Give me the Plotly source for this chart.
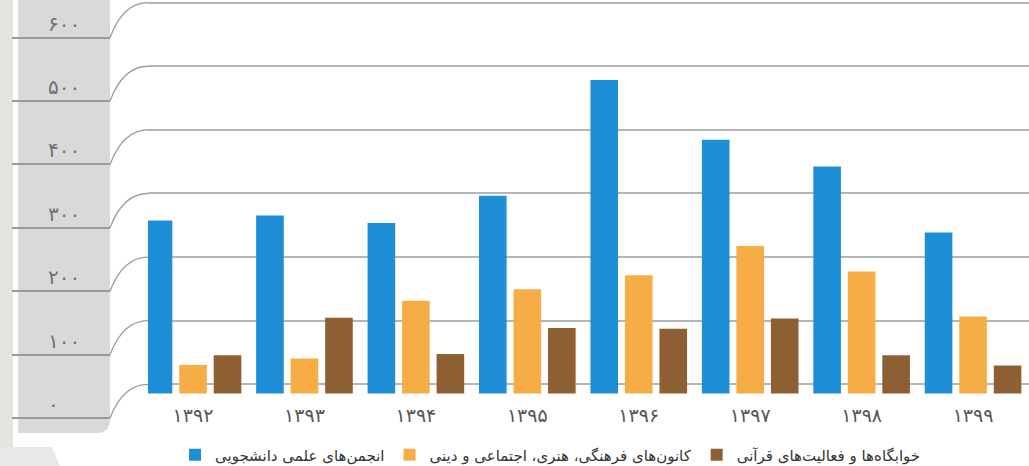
import plotly.graph_objects as go

# ---------------- data ----------------
years = ["۱۳۹۲", "۱۳۹۳", "۱۳۹۴", "۱۳۹۵", "۱۳۹۶", "۱۳۹۷", "۱۳۹۸", "۱۳۹۹"]
series_names = [
    "انجمن\u200cهای علمی دانشجویی",
    "کانون\u200cهای فرهنگی، هنری، اجتماعی و دینی",
    "خوابگاه\u200cها و فعالیت\u200cهای قرآنی",
]
blue_vals = [272, 280, 268, 311, 493, 399, 357, 253]
orange_vals = [45, 55, 146, 164, 186, 232, 192, 121]
brown_vals = [60, 119, 62, 103, 102, 118, 60, 44]
y_ticks = [0, 100, 200, 300, 400, 500, 600]
y_tick_labels = ["۰", "۱۰۰", "۲۰۰", "۳۰۰", "۴۰۰", "۵۰۰", "۶۰۰"]

colors = ["#1e8fd7", "#f6ad45", "#8f5f34"]
FONT = "DejaVu Sans"

W, H = 1029, 466


def pxf(x):
    return x / W


def pyf(y):
    return 1 - y / H


# layout geometry (pixels)
main_left, main_top, main_bottom = 148, 0, 400
panel_left, panel_right, panel_bottom = 12, 110, 435

bar_range = [-10.2, 618.7]     # bars: zero at the column foot
grid_range = [-24.7, 604.2]    # back-wall gridlines
panel_range = [-26.8, 659.5]   # front panel scale


def to_pix(v, rng, top_px, bot_px):
    return bot_px - (v - rng[0]) / (rng[1] - rng[0]) * (bot_px - top_px)


fig = go.Figure()
for name, vals, col in zip(series_names, [blue_vals, orange_vals, brown_vals], colors):
    fig.add_trace(go.Bar(x=years, y=vals, name=name, marker=dict(color=col, line=dict(width=0))))

# helper traces so that the gridline axis and the panel axis exist
fig.add_trace(go.Scatter(x=[], y=[], yaxis="y3", showlegend=False, hoverinfo="skip"))
fig.add_trace(go.Scatter(x=[], y=[], xaxis="x2", yaxis="y2", showlegend=False, hoverinfo="skip"))

shapes = []
# left texture strip
shapes.append(dict(type="rect", xref="paper", yref="paper", x0=0, x1=pxf(13), y0=0, y1=1,
                   fillcolor="#e6e4e1", line=dict(width=0), layer="below"))
# bottom-left grey strip
shapes.append(dict(type="path", xref="paper", yref="paper",
                   path=f"M 0,{pyf(447)} L {pxf(52)},{pyf(447)} L {pxf(60)},0 L 0,0 Z",
                   fillcolor="#ebe9e7", line=dict(width=0), layer="below"))
# grey label panel with rounded bottom-right corner
r = 14
x0p, x1p, ybp = 18, 110, 433
shapes.append(dict(type="path", xref="paper", yref="paper",
                   path=(f"M {pxf(x0p)},{pyf(0)} L {pxf(x1p)},{pyf(0)} L {pxf(x1p)},{pyf(ybp - r)} "
                         f"Q {pxf(x1p)},{pyf(ybp)} {pxf(x1p - r)},{pyf(ybp)} L {pxf(x0p)},{pyf(ybp)} Z"),
                   fillcolor="#d9d9d9", line=dict(width=0), layer="below"))
# curved connectors from panel lines to back-wall gridlines
for v in y_ticks:
    ys = to_pix(v, panel_range, 0, panel_bottom)
    ye = to_pix(v, grid_range, main_top, main_bottom)
    xs, xe = panel_right, main_left
    shapes.append(dict(type="path", xref="paper", yref="paper",
                       path=f"M {pxf(xs)},{pyf(ys)} Q {pxf(xs + 13)},{pyf(ye)} {pxf(xe)},{pyf(ye)}",
                       line=dict(color="#9a9a9a", width=1.3), layer="below"))

fig.update_layout(
    width=W, height=H,
    margin=dict(l=0, r=0, t=0, b=0, autoexpand=False),
    paper_bgcolor="white", plot_bgcolor="rgba(0,0,0,0)",
    font=dict(family=FONT, color="#444"),
    barmode="group", bargap=0.071, bargroupgap=0.2,
    shapes=shapes,
    showlegend=True,
    legend=dict(orientation="h", x=0.535, xanchor="center", y=pyf(455), yanchor="middle",
                font=dict(family=FONT, size=15, color="#333"), bgcolor="rgba(0,0,0,0)",
                itemwidth=30),
    xaxis=dict(domain=[pxf(main_left), 1], anchor="y", type="category",
               range=[-0.404, 7.502], showgrid=False, zeroline=False, showline=False,
               ticks="", ticklabelstandoff=2,
               tickfont=dict(family=FONT, size=19, color="#555")),
    yaxis=dict(domain=[pyf(main_bottom), 1], anchor="x", range=bar_range,
               showgrid=False, zeroline=False, showticklabels=False, ticks=""),
    yaxis3=dict(overlaying="y", anchor="x", range=grid_range, tickmode="array",
                tickvals=y_ticks, showgrid=True, gridcolor="#b5b5b5", gridwidth=1.5,
                zeroline=False, showticklabels=False, ticks=""),
    xaxis2=dict(domain=[pxf(panel_left), pxf(panel_right)], anchor="y2", range=[0, 1],
                showgrid=False, zeroline=False, showticklabels=False, showline=False, ticks=""),
    yaxis2=dict(domain=[pyf(panel_bottom), 1], anchor="x2", range=panel_range,
                tickmode="array", tickvals=y_ticks, ticktext=y_tick_labels,
                showgrid=True, gridcolor="#9a9a9a", gridwidth=1.5, zeroline=False,
                ticks="", ticklabelposition="inside top", ticklabelstandoff=33,
                tickfont=dict(family=FONT, size=20, color="#707070")),
)

fig.write_html("out.html", config={"displayModeBar": False},
               post_script="document.body.style.margin='0';")
